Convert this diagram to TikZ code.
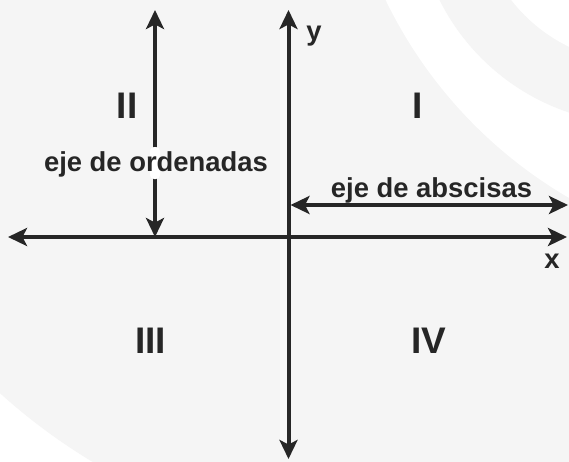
\documentclass[tikz,border=0pt]{standalone}
\usepackage{fontspec}
\setmainfont{Liberation Sans}
\usetikzlibrary{arrows.meta}
\definecolor{fondo}{HTML}{F5F5F5}
\definecolor{tinta}{HTML}{262626}
\begin{document}
\begin{tikzpicture}[x=1pt,y=-1pt,
	punta/.tip={Stealth[length=19pt,width=18pt,inset=4.5pt]},
	eje/.style={draw=tinta,line width=4pt,punta-punta},
	flecha/.style={draw=tinta,line width=3.5pt,punta-punta},
	texto/.style={text=tinta,inner sep=0pt,anchor=base,font=\fontsize{27.4}{32}\selectfont\bfseries},
	cuadrante/.style={text=tinta,inner sep=0pt,anchor=base,font=\fontsize{37}{40}\selectfont\bfseries}]
		% fondo con marca de agua
		\useasboundingbox (0,0) rectangle (569,461);
		\fill[white] (0,0) rectangle (569,461);
		\begin{scope}
			\clip (0,0) rectangle (569,461);
			\fill[fondo] (400,-50) circle[radius=597];
			\fill[white] (800,-200) circle[radius=460];
			\fill[fondo] (640,-100) circle[radius=224];
			\fill[white] (640,-100) circle[radius=163];
		\end{scope}
		
		\coordinate (ytop) at (288.5,10);
		\coordinate (ybot) at (288.5,459);
		\coordinate (xleft) at (8,237);
		\coordinate (xright) at (567,237);
		\coordinate (otop) at (155,10);
		\coordinate (obot) at (155,237);
		\coordinate (aleft) at (290.5,205);
		\coordinate (aright) at (568,205);
		
		\draw[eje] (xleft) -- (xright);
		\draw[eje] (ybot) -- (ytop);
		\draw[flecha] (otop) -- (obot);
		\draw[flecha] (aleft) -- (aright);
		
		\node[fill=white,rounded corners=4pt,inner sep=0pt,minimum width=10pt,minimum height=32pt](hueco)at(155,163) {};
		
		\node[texto](y)at(314,40) {y};
		\node[texto](x)at(552,268) {x};
		\node[texto](ordenadas)at(156,171) {eje de ordenadas};
		\node[texto](abscisas)at(431.5,197) {eje de abscisas};
		
		\node[cuadrante](q1)at(418,118) {I};
		\node[cuadrante](q2)at(127,118) {II};
		\node[cuadrante](q3)at(150.6,353) {III};
		\node[cuadrante](q4)at(429,353) {IV};
	\end{tikzpicture}
\end{document}
